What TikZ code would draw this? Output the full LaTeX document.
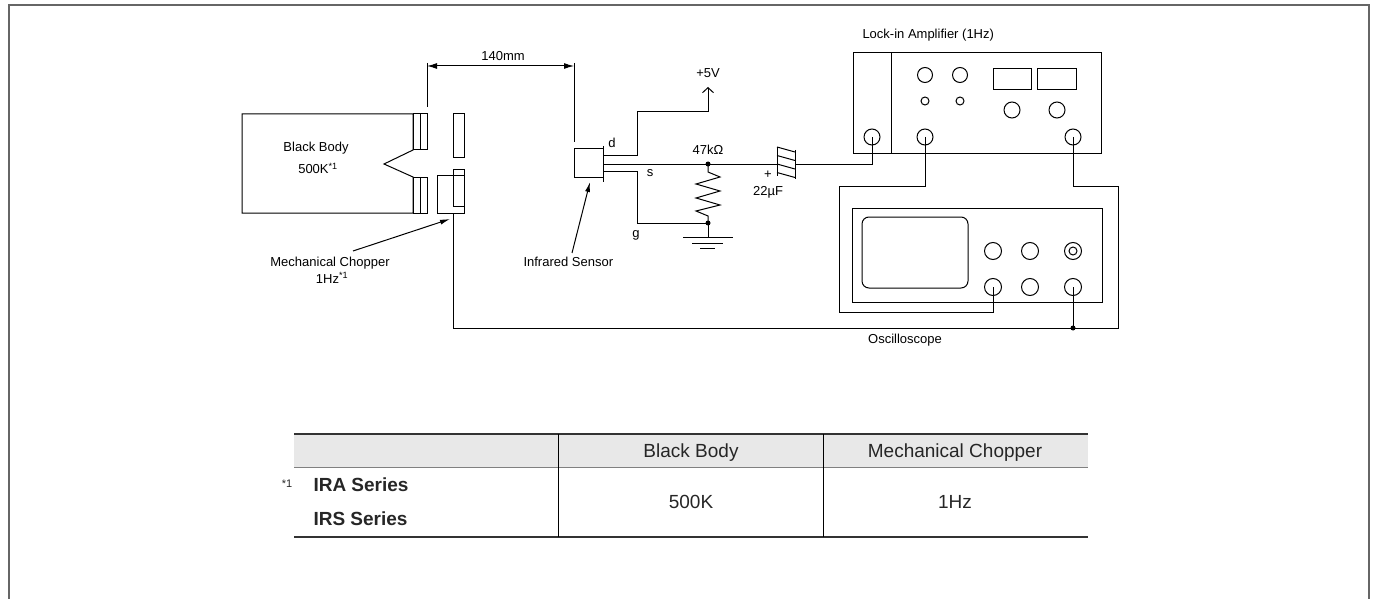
\documentclass[tikz,border=0pt]{standalone}
\usepackage{fontspec}
\setmainfont{Liberation Sans}
\usepackage{xcolor}
\usetikzlibrary{arrows.meta}

\begin{document}
\begin{tikzpicture}[x=1pt, y=-1pt, line width=1pt,
    jack/.style={shape=circle, draw, inner sep=0pt, minimum size=16pt},
    knob/.style={shape=circle, draw, inner sep=0pt, minimum size=15pt},
    pin/.style={shape=circle, draw, inner sep=0pt, minimum size=8pt},
    junc/.style={shape=circle, fill, inner sep=0pt, minimum size=5pt},
    lbl/.style={inner sep=0pt, anchor=base, font=\fontsize{13}{15}\selectfont},
    tbl/.style={inner sep=0pt, anchor=base, font=\fontsize{19}{22}\selectfont, text=black!85},
    pointer/.style={-{Latex[length=10pt,width=5pt]}}]
    \useasboundingbox (0,0) rectangle (1376,599);
    \draw[line width=1.6pt, black!60] (9,599) -- (9,5) -- (1369,5) -- (1369,599);

    % black body and chopper
    \draw (413,150) -- (413,114) -- (242,114) -- (242,213) -- (413,213) -- (413,177) -- (384,164) -- cycle;
    \draw (413,114) rectangle (427,150) (420,114) -- (420,150);
    \draw (413,177) rectangle (427,213) (420,177) -- (420,213);
    \node[lbl] (bbname) at (316,152) {Black Body};
    \node[lbl] (bbtemp) at (318,174) {500K\textsuperscript{*1}};
    \draw (453,114) rectangle (464,158);
    \draw (437,175) rectangle (464,213);
    \draw (453,169) rectangle (464,206);
    \coordinate (chop) at (453,213);
    \node[lbl] (chopname) at (330,266) {Mechanical Chopper};
    \node[lbl] (chopfreq) at (332,283) {1Hz\textsuperscript{*1}};
    \draw[pointer] (353,251) -- (450,219);

    % distance
    \draw (427,63) -- (427,107);
    \draw (574,63) -- (574,142);
    \draw[{Latex[length=10pt,width=6pt]}-{Latex[length=10pt,width=6pt]}] (427,66) -- (574,66);
    \node[lbl] (dist) at (503,61) {140mm};

    % infrared sensor
    \draw (574,149) rectangle (603,177);
    \draw (603,146) -- (603,182);
    \node[lbl, anchor=base west] (irlbl) at (523,266) {Infrared Sensor};
    \draw[pointer] (572,253) -- (590,182);
    \node[lbl] (dlbl) at (612,147) {d};
    \node[lbl] (slbl) at (650,176) {s};
    \node[lbl] (glbl) at (636,237) {g};

    % supply, load, ground
    \draw[-{Straight Barb[length=5pt,width=11pt]}] (603,156) -- (637,156) -- (637,112) -- (708,112) -- (708,87);
    \node[lbl] (vcc) at (708,78) {+5V};
    \coordinate (rtop) at (708,164);
    \coordinate (rbot) at (708,223);
    \draw (603,164) -- (777,164);
    \draw (603,171) -- (637,171) -- (637,223) -- (rbot);
    \draw (rtop) -- (708,172) -- (720,177) -- (696,184) -- (720,191) -- (696,198) -- (720,205) -- (696,211) -- (708,216) -- (rbot);
    \node[junc] at (rtop) {};
    \node[junc] at (rbot) {};
    \node[lbl] (rlbl) at (708,154) {47kΩ};
    \draw (rbot) -- (708,237);
    \draw (683,237) -- (733,237);
    \draw (692,243) -- (723,243);
    \draw (700,248) -- (715,248);

    % capacitor
    \draw (777,147) -- (777,176) (795,150) -- (795,179);
    \draw (777,147) -- (795,152) (777,155.5) -- (795,160.5) (777,164) -- (795,169) (777,172.5) -- (795,177.5);
    \node[inner sep=0pt, font=\fontsize{13}{15}\selectfont] (plus) at (768,175) {+};
    \node[lbl] (clbl) at (768,195) {22µF};

    % lock-in amplifier
    \draw (853,53) rectangle (1101,154);
    \draw (891,53) -- (891,154);
    \node[lbl, anchor=base west] (lockinlbl) at (862,39) {Lock-in Amplifier (1Hz)};
    \node[knob] (la) at (925,75) {};
    \node[knob] (lb) at (960,75) {};
    \node[pin] (lc) at (925,101) {};
    \node[pin] (ld) at (960,101) {};
    \draw (993,69) rectangle (1031,90);
    \draw (1037,69) rectangle (1076,90);
    \node[jack] (le) at (1012,110) {};
    \node[jack] (lf) at (1057,110) {};
    \node[jack] (jin) at (872,137) {};
    \node[jack] (jmid) at (925,137) {};
    \node[jack] (jout) at (1073,137) {};
    \draw (795,164) -- (872,164) -- (jin.center);

    % oscilloscope
    \draw (852,208) rectangle (1102,302);
    \draw[rounded corners=7pt] (862,217) rectangle (968,288);
    \node[jack, minimum size=17pt] (sk1) at (993,251) {};
    \node[jack, minimum size=17pt] (sk2) at (1030,251) {};
    \node[jack, minimum size=17pt] (sk3) at (1073,251) {};
    \node[pin] at (sk3) {};
    \node[jack, minimum size=17pt] (sa) at (993,287) {};
    \node[jack, minimum size=17pt] (sk5) at (1030,287) {};
    \node[jack, minimum size=17pt] (sb) at (1073,287) {};
    \node[lbl] (scopelbl) at (905,343) {Oscilloscope};
    \draw (jmid.center) -- (925,186) -- (839,186) -- (839,312) -- (993,312) -- (sa.center);
    \draw (jout.center) -- (1073,186) -- (1118,186) -- (1118,328) -- (453,328) -- (chop);
    \draw (sb.center) -- (1073,328);
    \node[junc] at (1073,328) {};

    % table
    \fill[black!9] (294,434) rectangle (1088,467);
    \draw[line width=0.8pt, black!50] (294,467) -- (1088,467);
    \draw[line width=2.4pt, black!80] (294,434) -- (1088,434);
    \draw[line width=2.4pt, black!80] (294,537) -- (1088,537);
    \draw (558,434) -- (558,537) (823,434) -- (823,537);
    \node[tbl] (hbb) at (691,457) {Black Body};
    \node[tbl] (hmc) at (955,457) {Mechanical Chopper};
    \node[inner sep=0pt, font=\fontsize{11}{13}\selectfont, text=black!85] (note) at (287,484) {*1};
    \node[tbl, anchor=base west, font=\bfseries\fontsize{19}{22}\selectfont] (ira) at (313,491) {IRA Series};
    \node[tbl, anchor=base west, font=\bfseries\fontsize{19}{22}\selectfont] (irs) at (313,525) {IRS Series};
    \node[tbl] (vbb) at (691,508) {500K};
    \node[tbl] (vmc) at (955,508) {1Hz};
\end{tikzpicture}
\end{document}
